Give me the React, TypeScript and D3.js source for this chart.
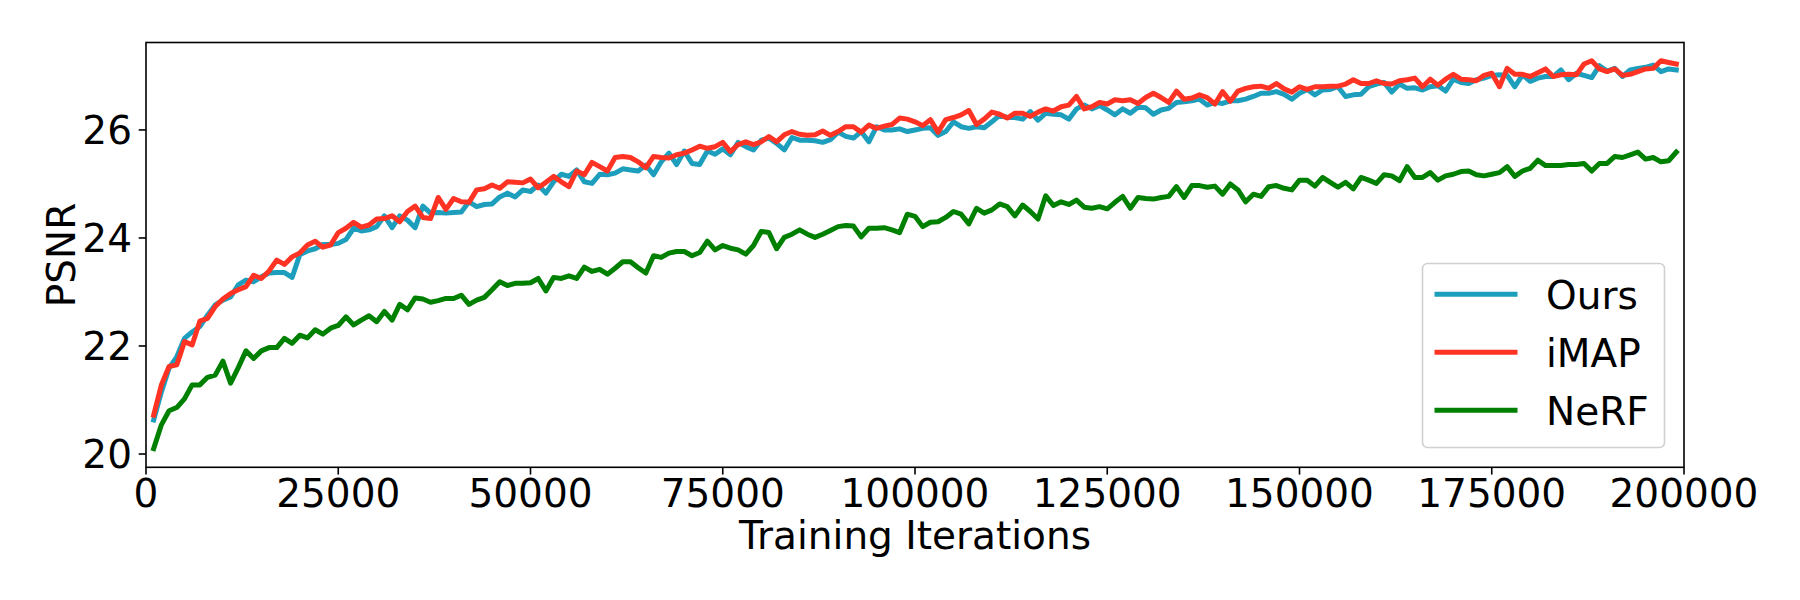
import React from "react";
import * as d3 from "d3";

const iterStep = 1000;

const ours = [
  20.63, 21.15, 21.59, 21.80, 22.14, 22.26, 22.36, 22.57, 22.76, 22.85, 22.91, 23.13, 23.22, 23.19, 23.28, 23.35, 23.36, 23.36, 23.27, 23.69, 23.76, 23.80, 23.88, 23.88, 23.90, 23.97, 24.18, 24.13,
  24.15, 24.21, 24.41, 24.19, 24.41, 24.33, 24.19, 24.59, 24.46, 24.47, 24.46, 24.47, 24.48, 24.67, 24.58, 24.62, 24.63, 24.76, 24.83, 24.76, 24.89, 24.86, 24.98, 24.83, 25.04, 25.18, 25.14, 25.26, 25.04,
  25.01, 25.18, 25.17, 25.20, 25.28, 25.26, 25.24, 25.35, 25.17, 25.41, 25.57, 25.36, 25.61, 25.38, 25.36, 25.61, 25.55, 25.65, 25.54, 25.77, 25.69, 25.63, 25.81, 25.85, 25.75, 25.63, 25.86, 25.81, 25.81,
  25.80, 25.77, 25.82, 25.96, 25.88, 25.85, 25.97, 25.78, 26.06, 26.00, 26.00, 26.02, 25.97, 26.00, 26.03, 26.04, 25.90, 25.97, 26.15, 26.06, 26.03, 26.06, 26.04, 26.15, 26.27, 26.23, 26.23, 26.20,
  26.34, 26.18, 26.31, 26.29, 26.28, 26.20, 26.39, 26.46, 26.39, 26.45, 26.37, 26.28, 26.39, 26.31, 26.42, 26.41, 26.29, 26.37, 26.40, 26.51, 26.52, 26.54, 26.57, 26.46, 26.51, 26.49, 26.54, 26.54, 26.57,
  26.62, 26.68, 26.68, 26.71, 26.66, 26.57, 26.68, 26.75, 26.65, 26.74, 26.75, 26.80, 26.62, 26.65, 26.66, 26.80, 26.85, 26.88, 26.70, 26.85, 26.77, 26.78, 26.74, 26.80, 26.82, 26.72, 26.94, 26.88,
  26.86, 26.93, 26.96, 27.01, 27.02, 27.01, 26.80, 27.02, 26.90, 26.96, 26.99, 26.99, 27.11, 26.93, 27.05, 27.01, 26.97, 27.19, 27.09, 27.14, 26.99, 27.11, 27.14, 27.16, 27.20, 27.08, 27.13, 27.11,
];

const imap = [
  20.72, 21.28, 21.62, 21.65, 22.08, 22.02, 22.46, 22.51, 22.73, 22.87, 22.97, 23.04, 23.10, 23.31, 23.25, 23.39, 23.59, 23.51, 23.65, 23.72, 23.87, 23.94, 23.83, 23.87, 24.10, 24.18, 24.29, 24.20,
  24.24, 24.35, 24.36, 24.41, 24.30, 24.49, 24.59, 24.38, 24.36, 24.75, 24.53, 24.73, 24.67, 24.66, 24.89, 24.91, 24.98, 24.92, 25.04, 25.03, 25.02, 25.09, 24.93, 25.03, 25.14, 25.04, 24.95, 25.24, 25.17,
  25.40, 25.32, 25.24, 25.49, 25.51, 25.49, 25.41, 25.30, 25.51, 25.49, 25.48, 25.54, 25.57, 25.63, 25.70, 25.66, 25.69, 25.77, 25.60, 25.73, 25.78, 25.73, 25.78, 25.88, 25.78, 25.91, 25.97, 25.92, 25.90,
  25.91, 25.98, 25.90, 25.97, 26.06, 26.06, 25.96, 26.09, 26.03, 26.07, 26.10, 26.22, 26.20, 26.15, 26.08, 26.19, 25.96, 26.19, 26.23, 26.28, 26.36, 26.10, 26.20, 26.33, 26.29, 26.22, 26.31, 26.31,
  26.25, 26.33, 26.39, 26.35, 26.43, 26.46, 26.62, 26.39, 26.43, 26.51, 26.48, 26.56, 26.54, 26.56, 26.49, 26.60, 26.68, 26.60, 26.51, 26.72, 26.57, 26.59, 26.65, 26.60, 26.48, 26.71, 26.53, 26.72, 26.77,
  26.80, 26.81, 26.77, 26.86, 26.76, 26.70, 26.80, 26.75, 26.80, 26.80, 26.81, 26.81, 26.85, 26.93, 26.86, 26.86, 26.91, 26.86, 26.85, 26.91, 26.93, 26.96, 26.80, 26.94, 26.83, 26.94, 27.03, 26.94,
  26.93, 26.91, 27.01, 27.05, 26.80, 27.14, 27.03, 27.03, 26.99, 27.06, 27.13, 26.99, 27.02, 27.03, 27.02, 27.22, 27.28, 27.13, 27.08, 27.13, 27.01, 27.03, 27.08, 27.13, 27.14, 27.28, 27.25, 27.22,
];

const nerf = [
  20.1, 20.54, 20.80, 20.86, 21.02, 21.28, 21.28, 21.42, 21.46, 21.72, 21.31, 21.60, 21.91, 21.77, 21.91, 21.97, 21.97, 22.14, 22.05, 22.20, 22.15, 22.30, 22.22, 22.33, 22.38, 22.54, 22.39, 22.48,
  22.56, 22.45, 22.64, 22.48, 22.77, 22.67, 22.89, 22.87, 22.81, 22.84, 22.88, 22.88, 22.94, 22.77, 22.85, 22.90, 23.04, 23.19, 23.12, 23.16, 23.16, 23.17, 23.25, 23.02, 23.27, 23.25, 23.30, 23.25, 23.46,
  23.38, 23.42, 23.33, 23.44, 23.56, 23.56, 23.45, 23.35, 23.67, 23.64, 23.72, 23.75, 23.75, 23.67, 23.73, 23.94, 23.78, 23.86, 23.81, 23.78, 23.70, 23.86, 24.12, 24.10, 23.80, 24.01, 24.07, 24.15, 24.07,
  24.01, 24.07, 24.14, 24.21, 24.23, 24.22, 24.02, 24.18, 24.18, 24.19, 24.15, 24.10, 24.44, 24.40, 24.21, 24.29, 24.30, 24.38, 24.49, 24.44, 24.26, 24.55, 24.46, 24.52, 24.63, 24.58, 24.41, 24.61,
  24.49, 24.35, 24.78, 24.60, 24.67, 24.62, 24.70, 24.57, 24.55, 24.58, 24.54, 24.66, 24.77, 24.55, 24.75, 24.73, 24.72, 24.75, 24.77, 24.95, 24.75, 24.97, 24.97, 24.94, 24.96, 24.81, 25.00, 24.89, 24.67,
  24.81, 24.77, 24.95, 24.97, 24.92, 24.89, 25.07, 25.07, 24.96, 25.12, 25.03, 24.94, 25.03, 24.91, 25.12, 25.07, 25.01, 25.17, 25.15, 25.06, 25.32, 25.12, 25.12, 25.21, 25.07, 25.15, 25.18, 25.23,
  25.24, 25.17, 25.15, 25.18, 25.21, 25.32, 25.14, 25.24, 25.29, 25.44, 25.34, 25.34, 25.34, 25.36, 25.36, 25.38, 25.24, 25.38, 25.38, 25.51, 25.49, 25.54, 25.59, 25.46, 25.49, 25.41, 25.43, 25.59,
];

const seriesNames = ["Ours", "iMAP", "NeRF"];
const seriesColors = ["#1d9ebc", "#ff3324", "#008000"];
const xTicks = [0, 25000, 50000, 75000, 100000, 125000, 150000, 175000, 200000];
const yTicks = [20, 22, 24, 26];

const W = 1800;
const H = 600;
const L = 146;
const R = 1684;
const T = 42.5;
const B = 467.3;
const FONT = "DejaVu Sans, sans-serif";
const FS = 39;

export default function App() {
  const x = d3.scaleLinear().domain([0, 200000]).range([L, R]);
  const y = d3.scaleLinear().domain([19.754, 27.619]).range([B, T]);
  const allSeries = [ours, imap, nerf];
  const line = d3
    .line<number>()
    .x((_, i) => x((i + 1) * iterStep))
    .y((d) => y(d));

  const legX0 = 1422.5;
  const legY0 = 263.5;
  const legW = 242;
  const legH = 184;
  const legRowY = [294.3, 352.3, 410.3];

  return (
    <svg
      width={W}
      height={H}
      style={{ position: "absolute", left: 0, top: 0, background: "#fff" }}
      fontFamily={FONT}
    >
      <rect x={0} y={0} width={W} height={H} fill="#fff" />
      {allSeries.map((s, k) => (
        <path
          key={k}
          d={line(s) || ""}
          fill="none"
          stroke={seriesColors[k]}
          strokeWidth={5}
          strokeLinejoin="round"
          strokeLinecap="square"
        />
      ))}
      <rect x={L} y={T} width={R - L} height={B - T} fill="none" stroke="#000" strokeWidth={1.6} />
      {xTicks.map((t) => (
        <g key={t}>
          <line x1={x(t)} x2={x(t)} y1={B} y2={B + 7.3} stroke="#000" strokeWidth={1.6} />
          <text x={x(t)} y={507} textAnchor="middle" fontSize={FS} fill="#000">
            {t}
          </text>
        </g>
      ))}
      {yTicks.map((t) => (
        <g key={t}>
          <line x1={L - 7.3} x2={L} y1={y(t)} y2={y(t)} stroke="#000" strokeWidth={1.6} />
          <text x={132} y={y(t) + 14.2} textAnchor="end" fontSize={FS} fill="#000">
            {t}
          </text>
        </g>
      ))}
      <text x={(L + R) / 2} y={549} textAnchor="middle" fontSize={FS} fill="#000">
        Training Iterations
      </text>
      <text
        transform={`translate(74.5, ${(T + B) / 2}) rotate(-90)`}
        textAnchor="middle"
        fontSize={FS}
        fill="#000"
      >
        PSNR
      </text>
      <rect
        x={legX0}
        y={legY0}
        width={legW}
        height={legH}
        rx={5}
        ry={5}
        fill="#fff"
        fillOpacity={0.8}
        stroke="#d0d0d0"
        strokeWidth={1.6}
      />
      {seriesNames.map((n, k) => (
        <g key={n}>
          <line
            x1={1434.5}
            x2={1517.5}
            y1={legRowY[k]}
            y2={legRowY[k]}
            stroke={seriesColors[k]}
            strokeWidth={5}
            strokeLinecap="butt"
          />
          <text x={1546} y={legRowY[k] + 14.2} fontSize={FS} fill="#000">
            {n}
          </text>
        </g>
      ))}
    </svg>
  );
}
